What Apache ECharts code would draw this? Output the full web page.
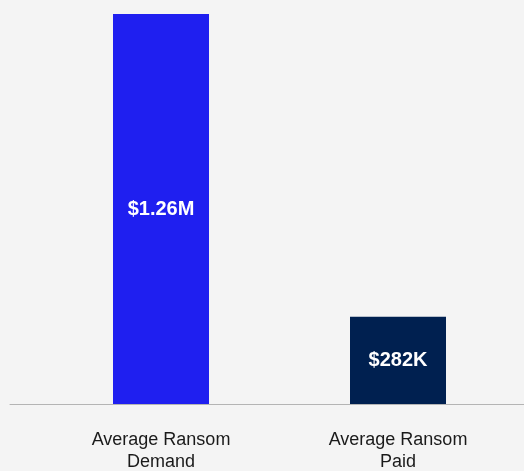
<!DOCTYPE html>
<html><head><meta charset="utf-8">
<script src="https://cdn.jsdelivr.net/npm/echarts@6/dist/echarts.min.js"></script>
<style>html,body{margin:0;padding:0;background:#f4f4f4;}#c{width:524px;height:471px;}</style>
</head><body><div id="c"></div>
<script>
const categories = ['Average Ransom\nDemand', 'Average Ransom\nPaid'];
const values = [1260000, 282000];
const valueLabels = ['$1.26M', '$282K'];
const barColors = ['#1f1ff0', '#002050'];

const chart = echarts.init(document.getElementById('c'));
chart.setOption({
  backgroundColor: '#f4f4f4',
  animation: false,
  grid: [
    { left: 42.5, right: 7.5, top: 14, bottom: 67, outerBoundsMode: 'none', containLabel: false },
    { left: 10, right: 0, top: 14, bottom: 67, outerBoundsMode: 'none', containLabel: false }
  ],
  xAxis: [
    {
      type: 'category', gridIndex: 0, data: categories,
      axisLine: { show: false }, axisTick: { show: false },
      axisLabel: { color: '#1a1a1a', fontSize: 18, fontFamily: 'Liberation Sans, Arial, sans-serif', lineHeight: 22, margin: 25 }
    },
    {
      type: 'category', gridIndex: 1, data: [''],
      axisLine: { show: true, lineStyle: { color: '#b4b4b4', width: 1 } },
      axisTick: { show: false }, axisLabel: { show: false }
    }
  ],
  yAxis: [
    { type: 'value', gridIndex: 0, min: 0, max: 1260000, show: false },
    { type: 'value', gridIndex: 1, min: 0, max: 1, show: false }
  ],
  series: [{
    type: 'bar', xAxisIndex: 0, yAxisIndex: 0,
    barWidth: 96,
    data: values.map((v, i) => ({ value: v, itemStyle: { color: barColors[i] } })),
    label: {
      show: true, position: 'inside', color: '#ffffff',
      fontSize: 20, fontWeight: 'bold', fontFamily: 'Liberation Sans, Arial, sans-serif',
      formatter: p => valueLabels[p.dataIndex]
    }
  }]
});
</script></body></html>
